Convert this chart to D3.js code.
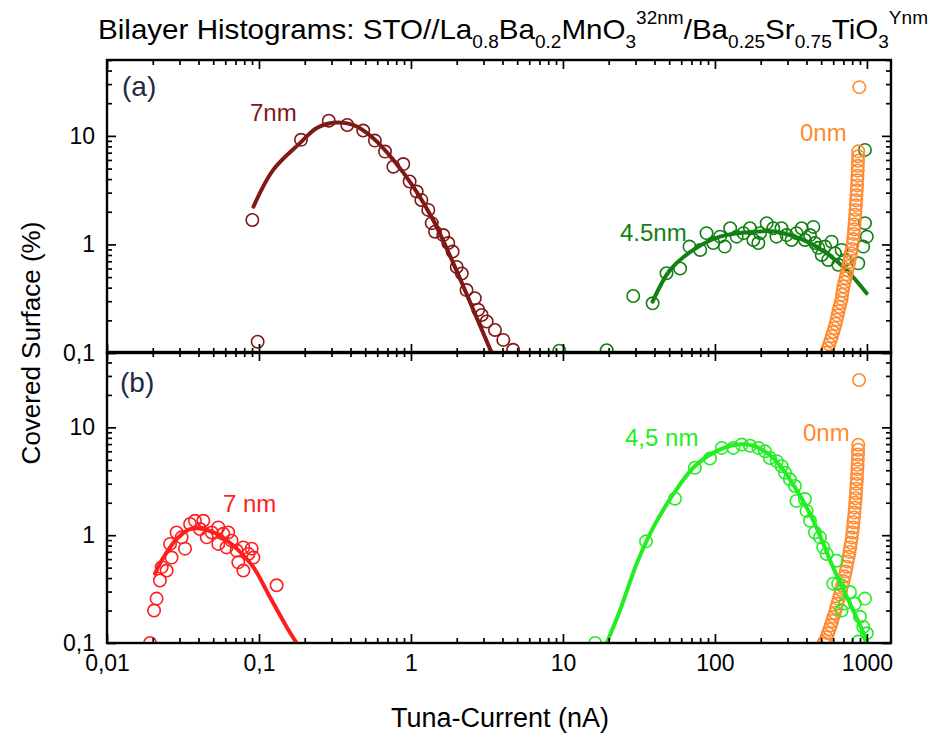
<!DOCTYPE html>
<html>
<head>
<meta charset="utf-8">
<script src="https://cdn.jsdelivr.net/npm/d3@7"></script>
<style>
  body { margin: 0; background: #fff; }
  svg { display: block; }
</style>
</head>
<body>
<script>
// Chart data
var xTickValues = [0.01, 0.1, 1, 10, 100, 1000];
var xTickLabels = ["0,01", "0,1", "1", "10", "100", "1000"];
var yTickValues = [0.1, 1, 10];
var yTickLabels = ["0,1", "1", "10"];

// panel (a) - 7nm (dark red)
var a7X = [0.0904, 0.098, 0.189, 0.288, 0.381, 0.485, 0.579, 0.675, 0.766, 0.89, 0.98, 1.09, 1.17, 1.30, 1.37, 1.44, 1.63, 1.76, 1.88, 2.0, 2.16, 2.32, 2.63, 2.77, 2.92, 3.15, 3.57, 4.05, 4.7];
var a7Y = [1.68, 0.127, 9.2, 13.8, 12.6, 11.2, 9.05, 7.17, 5.2, 5.5, 3.8, 3.07, 2.57, 2.08, 1.57, 1.31, 1.22, 1.03, 0.86, 0.62, 0.54, 0.38, 0.32, 0.25, 0.224, 0.195, 0.163, 0.132, 0.107];
var a7FitX = [0.092, 0.124, 0.186, 0.24, 0.307, 0.417, 0.565, 0.766, 1.035, 1.40, 1.90, 2.57, 3.4];
var a7FitY = [2.23, 4.86, 8.57, 11.8, 13.2, 12.6, 9.5, 6.0, 3.41, 1.68, 0.67, 0.25, 0.1];

// panel (a) - 4.5nm (dark green)
var a45X = [9.46, 19.4, 29, 38.9, 48, 59, 68, 80, 88, 97.5, 108, 116, 126, 139, 154, 170, 179, 193, 198, 219, 242, 254, 274, 296, 319, 344, 372, 391, 422, 444, 455, 479, 504, 530, 556, 586, 616, 647, 681, 716, 877, 971, 971, 998, 946];
var a45Y = [0.105, 0.106, 0.335, 0.287, 0.543, 0.60, 0.955, 0.89, 1.27, 1.03, 1.18, 0.955, 1.41, 1.18, 1.27, 1.41, 1.10, 1.03, 1.27, 1.57, 1.41, 1.18, 1.41, 1.22, 1.10, 1.27, 1.41, 1.10, 1.22, 1.45, 1.03, 0.93, 0.80, 0.955, 0.72, 1.06, 0.83, 0.65, 0.89, 0.72, 0.67, 7.43, 1.57, 1.18, 0.955];
var a45FitX = [38.9, 50.6, 72, 108, 179, 254, 381, 543, 735, 996];
var a45FitY = [0.297, 0.58, 0.89, 1.18, 1.31, 1.31, 1.10, 0.83, 0.58, 0.355];

// panel (a) - 0nm (orange)
var a0X = [891, 877, 876, 874, 872, 870, 867, 864, 861, 858, 854, 850, 846, 842, 838, 834, 829, 824, 819, 813, 805, 795, 785, 776, 765, 754, 744, 733, 723, 712, 701, 694, 687, 682, 671, 660, 650, 641, 632, 622, 611, 600, 589, 577, 565, 553, 541];
var a0Y = [28.1, 7.2, 6.5, 5.9, 5.3, 4.8, 4.3, 3.9, 3.5, 3.15, 2.85, 2.55, 2.3, 2.08, 1.88, 1.7, 1.53, 1.38, 1.25, 1.12, 1.01, 0.91, 0.83, 0.76, 0.69, 0.63, 0.58, 0.53, 0.49, 0.45, 0.41, 0.375, 0.345, 0.315, 0.29, 0.265, 0.243, 0.222, 0.203, 0.186, 0.17, 0.156, 0.143, 0.131, 0.12, 0.11, 0.101];

// panel (b) - 7 nm (red)
var b7X = [0.0192, 0.0204, 0.0212, 0.0223, 0.0229, 0.0247, 0.026, 0.0266, 0.0287, 0.031, 0.0326, 0.0352, 0.0379, 0.0409, 0.043, 0.0453, 0.0489, 0.054, 0.054, 0.0582, 0.0612, 0.0628, 0.066, 0.0713, 0.0731, 0.0789, 0.0789, 0.0851, 0.0895, 0.0918, 0.1306];
var b7Y = [0.1, 0.20, 0.258, 0.38, 0.505, 0.47, 0.83, 0.62, 1.06, 0.955, 0.75, 1.27, 1.36, 1.14, 1.36, 0.955, 1.06, 1.18, 0.83, 1.03, 0.77, 1.06, 0.89, 0.72, 0.56, 0.47, 0.77, 0.67, 0.75, 0.62, 0.343];
var b7FitX = [0.0207, 0.0235, 0.0287, 0.0352, 0.043, 0.0553, 0.0713, 0.0918, 0.118, 0.152, 0.177];
var b7FitY = [0.44, 0.62, 0.92, 1.14, 1.14, 0.99, 0.75, 0.505, 0.267, 0.141, 0.1];

// panel (b) - 4,5 nm (light green)
var b45X = [16.3, 35.2, 54.6, 73.8, 92.7, 111, 132, 150, 170, 193, 213, 230, 255, 275, 289, 311, 336, 344, 391, 401, 422, 455, 491, 516, 543, 631, 600, 647, 716, 681, 773, 834, 971, 900, 946, 998, 877];
var b45Y = [0.1, 0.877, 2.18, 4.22, 5.14, 6.45, 6.45, 6.92, 6.75, 6.45, 6.0, 5.2, 4.86, 4.37, 3.79, 3.3, 2.86, 2.08, 2.16, 1.68, 1.36, 1.06, 0.955, 0.77, 0.67, 0.58, 0.355, 0.355, 0.232, 0.20, 0.297, 0.232, 0.258, 0.175, 0.141, 0.123, 0.103];
var b45FitX = [19.4, 23.7, 30.5, 39.3, 53.2, 72, 97.5, 139, 179, 242, 327, 444, 600, 813, 998];
var b45FitY = [0.1, 0.20, 0.54, 1.18, 2.4, 4.22, 5.8, 6.92, 6.75, 5.2, 2.96, 1.36, 0.50, 0.20, 0.106];

// panel (b) - 0nm (orange)
var b0X = [888, 877, 875, 873, 871, 868, 865, 862, 859, 855, 851, 847, 843, 838, 833, 828, 822, 816, 810, 803, 795, 786, 777, 768, 758, 747, 736, 725, 713, 701, 688, 676, 664, 651, 639, 627, 615, 603, 591, 579, 567, 555, 543, 531, 520];
var b0Y = [27.5, 6.9, 6.2, 5.6, 5.0, 4.5, 4.1, 3.7, 3.3, 3.0, 2.7, 2.45, 2.2, 2.0, 1.8, 1.62, 1.46, 1.32, 1.18, 1.06, 0.95, 0.85, 0.77, 0.7, 0.63, 0.57, 0.51, 0.46, 0.415, 0.375, 0.34, 0.31, 0.28, 0.255, 0.232, 0.21, 0.19, 0.175, 0.16, 0.146, 0.134, 0.123, 0.113, 0.105, 0.1];

var FONT = "'Liberation Sans', Arial, sans-serif";
var colMaroon = "#801818", colDkGreen = "#128012", colLtGreen = "#22ee22";
var colRed = "#ff1e1e", colOrange = "#ff8a30";

var svgWidth = 928, svgHeight = 738;
var left = 107, right = 891;

var svg = d3.select("body").append("svg")
  .attr("width", svgWidth)
  .attr("height", svgHeight)
  .style("font-family", FONT);

var x = d3.scaleLog().domain([0.01, 1440]).range([left, right]);

var panels = [
  {id: "a", top: 60, bottom: 353, label: "(a)", labelX: 122, labelY: 96},
  {id: "b", top: 352, bottom: 643, label: "(b)", labelX: 120, labelY: 392}
];
panels.forEach(function(p) {
  p.y = d3.scaleLog().domain([0.1, 50]).range([p.bottom, p.top]);
});

var xMinor = x.ticks().filter(function(v) { return xTickValues.indexOf(v) < 0; });

function drawFrame(p, showXLabels) {
  var g = svg.append("g");
  var yMinor = p.y.ticks().filter(function(v) { return yTickValues.indexOf(v) < 0; });

  // bottom
  g.append("g").attr("transform", `translate(0, ${p.bottom})`)
    .call(d3.axisBottom(x).tickValues(xMinor).tickSizeInner(-5).tickSizeOuter(0).tickFormat(""));
  var bx = g.append("g").attr("transform", `translate(0, ${p.bottom})`)
    .call(d3.axisBottom(x).tickValues(xTickValues).tickSizeInner(-9).tickSizeOuter(0).tickPadding(12)
      .tickFormat(function(d, i) { return showXLabels ? xTickLabels[i] : ""; }));
  bx.selectAll("text").style("font-size", "23px").style("font-family", FONT).attr("fill", "#000");
  // top
  g.append("g").attr("transform", `translate(0, ${p.top})`)
    .call(d3.axisTop(x).tickValues(xMinor).tickSizeInner(-5).tickSizeOuter(0).tickFormat(""));
  g.append("g").attr("transform", `translate(0, ${p.top})`)
    .call(d3.axisTop(x).tickValues(xTickValues).tickSizeInner(-9).tickSizeOuter(0).tickFormat(""));
  // left
  g.append("g").attr("transform", `translate(${left}, 0)`)
    .call(d3.axisLeft(p.y).tickValues(yMinor).tickSizeInner(-5).tickSizeOuter(0).tickFormat(""));
  var ly = g.append("g").attr("transform", `translate(${left}, 0)`)
    .call(d3.axisLeft(p.y).tickValues(yTickValues).tickSizeInner(-9).tickSizeOuter(0).tickPadding(12)
      .tickFormat(function(d, i) { return yTickLabels[i]; }));
  ly.selectAll("text").style("font-size", "23px").style("font-family", FONT).attr("fill", "#000");
  // right
  g.append("g").attr("transform", `translate(${right}, 0)`)
    .call(d3.axisRight(p.y).tickValues(yMinor).tickSizeInner(-5).tickSizeOuter(0).tickFormat(""));
  g.append("g").attr("transform", `translate(${right}, 0)`)
    .call(d3.axisRight(p.y).tickValues(yTickValues).tickSizeInner(-9).tickSizeOuter(0).tickFormat(""));

  g.selectAll(".domain").remove();
  g.selectAll(".tick line").attr("stroke", "#000").attr("stroke-width", 1.7);

  // frame box
  g.append("rect")
    .attr("x", left).attr("y", p.top)
    .attr("width", right - left).attr("height", p.bottom - p.top)
    .attr("fill", "none").attr("stroke", "#000").attr("stroke-width", 2.4);
}

function drawSeries(p, xs, ys, color) {
  p.plot.append("g").selectAll("circle")
    .data(xs.map(function(v, i) { return [v, ys[i]]; }))
    .enter()
    .append("circle")
    .attr("cx", d => x(d[0]))
    .attr("cy", d => p.y(d[1]))
    .attr("r", 6.2)
    .attr("fill", "none")
    .attr("stroke", color)
    .attr("stroke-width", 1.6);
}

function drawFit(p, xs, ys, color) {
  var line = d3.line()
    .x(d => x(d[0]))
    .y(d => p.y(d[1]))
    .curve(d3.curveCatmullRom);
  p.plot.append("path")
    .datum(xs.map(function(v, i) { return [v, ys[i]]; }))
    .attr("d", line)
    .attr("fill", "none")
    .attr("stroke", color)
    .attr("stroke-width", 4)
    .attr("stroke-linecap", "round");
}

panels.forEach(function(p) {
  svg.append("clipPath").attr("id", "clip-" + p.id)
    .append("rect")
    .attr("x", left).attr("y", p.top)
    .attr("width", right - left).attr("height", p.bottom - p.top);
  p.plot = svg.append("g").attr("clip-path", `url(#clip-${p.id})`);
});

var pa = panels[0], pb = panels[1];

// panel (a)
drawSeries(pa, a7X, a7Y, colMaroon);
drawFit(pa, a7FitX, a7FitY, colMaroon);
drawSeries(pa, a45X, a45Y, colDkGreen);
drawFit(pa, a45FitX, a45FitY, colDkGreen);
drawSeries(pa, a0X, a0Y, colOrange);

// panel (b)
drawSeries(pb, b7X, b7Y, colRed);
drawFit(pb, b7FitX, b7FitY, colRed);
drawSeries(pb, b0X, b0Y, colOrange);
drawSeries(pb, b45X, b45Y, colLtGreen);
drawFit(pb, b45FitX, b45FitY, colLtGreen);

drawFrame(pa, false);
drawFrame(pb, true);

// panel letters
panels.forEach(function(p) {
  svg.append("text")
    .attr("x", p.labelX).attr("y", p.labelY)
    .style("font-size", "28px")
    .attr("fill", "#1e2a44")
    .text(p.label);
});

// series labels
var seriesLabels = [
  {t: "7nm", x: 250, y: 121, c: colMaroon},
  {t: "0nm", x: 800, y: 141, c: colOrange},
  {t: "4.5nm", x: 620, y: 241, c: colDkGreen},
  {t: "4,5 nm", x: 625, y: 446, c: colLtGreen},
  {t: "7 nm", x: 223, y: 512, c: colRed},
  {t: "0nm", x: 803, y: 441, c: colOrange}
];
svg.append("g").selectAll("text")
  .data(seriesLabels)
  .enter()
  .append("text")
  .attr("x", d => d.x).attr("y", d => d.y)
  .attr("fill", d => d.c)
  .style("font-size", "24px")
  .text(d => d.t);

// axis titles
svg.append("text")
  .attr("transform", "translate(40, 343) rotate(-90)")
  .style("text-anchor", "middle")
  .style("font-size", "26px")
  .text("Covered Surface (%)");

svg.append("text")
  .attr("x", 500).attr("y", 727)
  .style("text-anchor", "middle")
  .style("font-size", "27px")
  .text("Tuna-Current (nA)");

// title with sub/superscripts
var title = svg.append("text")
  .attr("x", 98).attr("y", 39)
  .attr("textLength", 830)
  .attr("lengthAdjust", "spacingAndGlyphs")
  .style("font-size", "28px");
var parts = [
  ["Bilayer Histograms: STO//La", 0], ["0.8", 1], ["Ba", 0], ["0.2", 1], ["MnO", 0], ["3", 1],
  ["32nm", 2], ["/Ba", 0], ["0.25", 1], ["Sr", 0], ["0.75", 1], ["TiO", 0], ["3", 1], ["Ynm", 2]
];
var level = 0;
parts.forEach(function(pt) {
  var shift = {0: 0, 1: 9, 2: -15}[pt[1]];
  title.append("tspan")
    .attr("dy", shift - level)
    .style("font-size", pt[1] === 0 ? "28px" : "18px")
    .text(pt[0]);
  level = shift;
});
</script>
</body>
</html>
